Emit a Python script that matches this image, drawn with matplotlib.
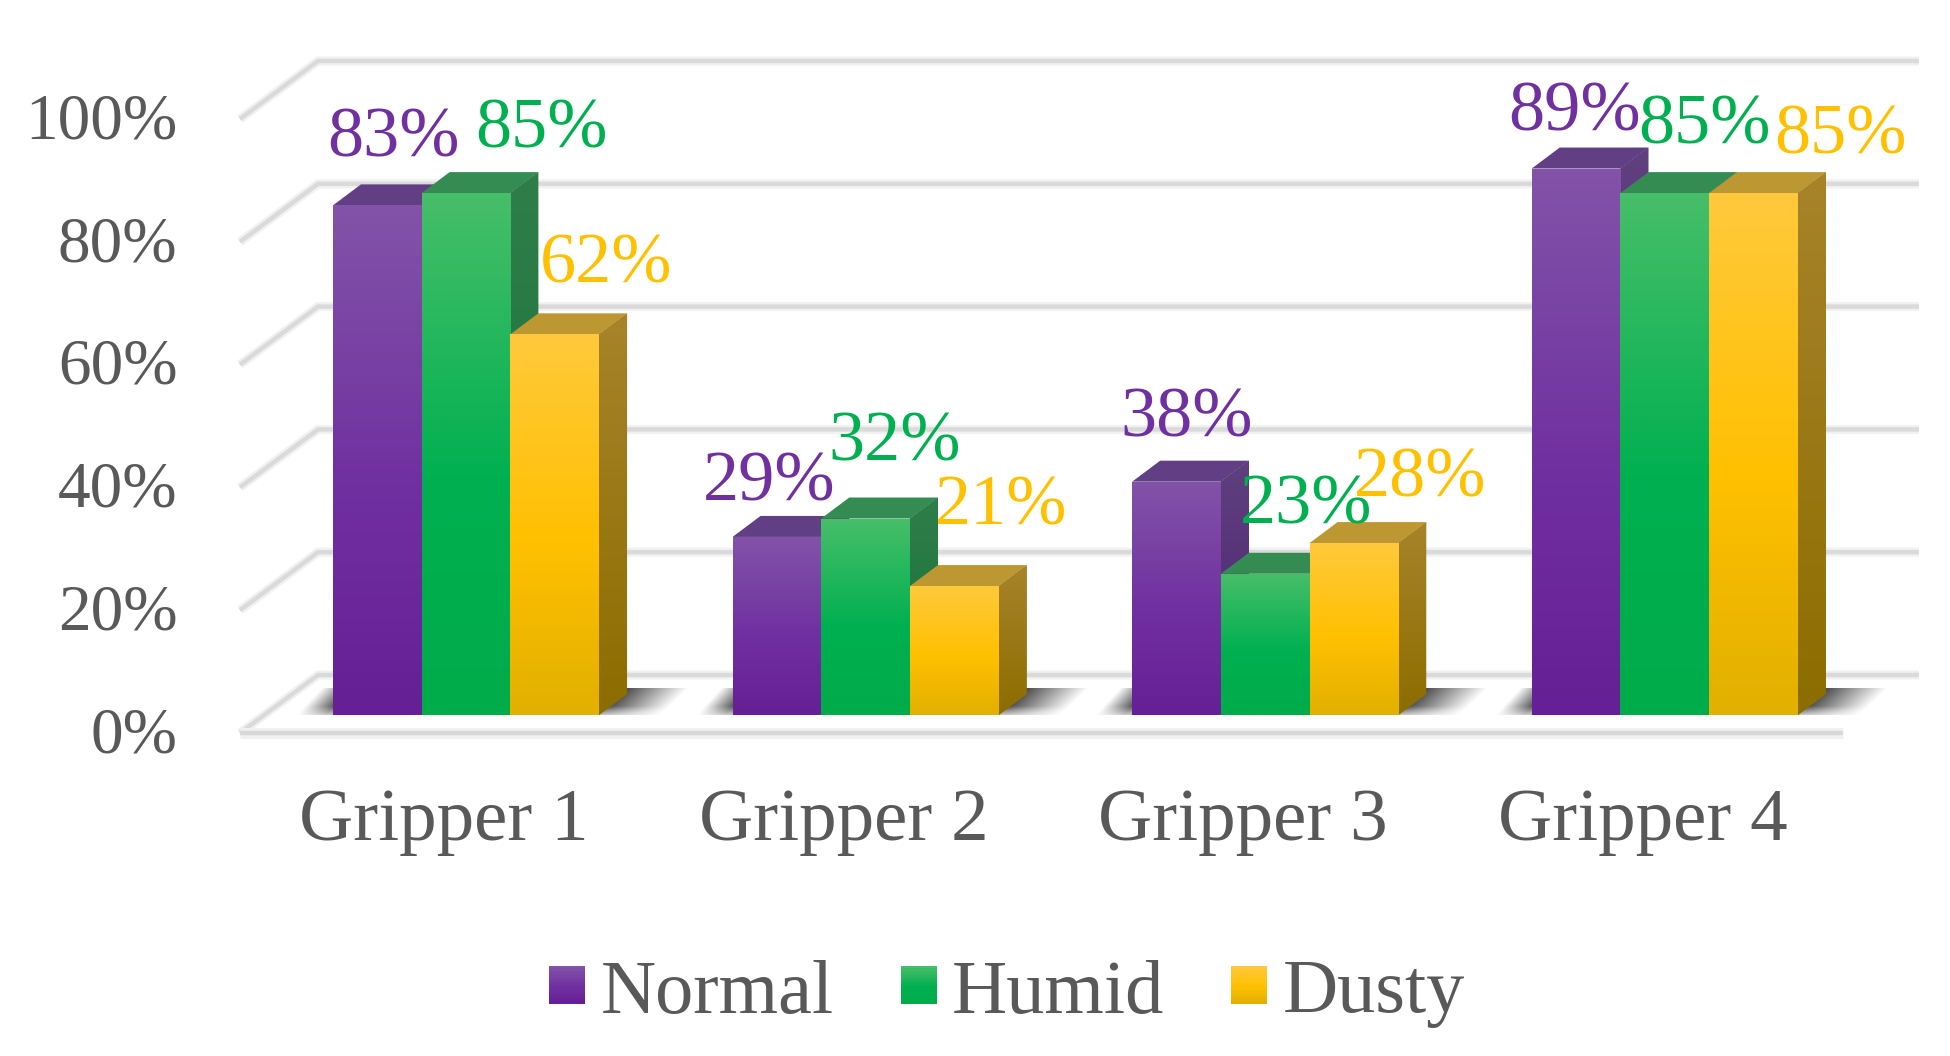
import numpy as np
import matplotlib
matplotlib.use("Agg")
import matplotlib.pyplot as plt
from matplotlib.colors import LinearSegmentedColormap
from matplotlib.patches import Polygon, Rectangle
from matplotlib.legend_handler import HandlerBase
from matplotlib.transforms import ScaledTranslation

categories = ["Gripper 1", "Gripper 2", "Gripper 3", "Gripper 4"]
series_names = ["Normal", "Humid", "Dusty"]
normal = [83, 29, 38, 89]
humid = [85, 32, 23, 85]
dusty = [62, 21, 28, 85]
y_ticks = [0, 20, 40, 60, 80, 100]

# styling
label_colors = ["#7030A0", "#00B050", "#FFC000"]
front_stops = [["#8253A8", "#7030A0", "#661F96"],
               ["#47BE69", "#00B050", "#00AB4A"],
               ["#FFC93B", "#FFC000", "#E2B000"]]
side_stops = [["#60407F", "#4A2070"], ["#2F7E49", "#176F38"], ["#A8832A", "#8C6D00"]]
top_colors = ["#623F85", "#358C52", "#BD9732"]
# label offsets from bar top centre, in pixels (right, up)
label_dx = [[16, 76, 51], [-8, 29, 47], [10, 41, 66], [-2, 40, 87]]
label_dy = [[66, 63, 69], [54, 76, 79], [63, 68, 64], [56, 67, 57]]

W, H = 1950, 1056
L, R, T, B = 240, 1843, 119, 733
PX_X = 399.6            # pixels per category
PX_Y = (B - T) / 100    # pixels per percent
LIFT = 18 / PX_Y
BAR_W = 88.7 / PX_X
BAR_SHIFT = 22 / PX_X
DEPTH_X, DEPTH_Y = 28 / PX_X, 21 / PX_Y
SHADOW_Y = 27 / PX_Y
WALL_X, WALL_Y = 78 / PX_X, 58 / PX_Y
X0 = 444

plt.rcParams["font.family"] = ["Liberation Serif", "DejaVu Serif"]
fig = plt.figure(figsize=(W / 100, H / 100), dpi=100, facecolor="white")
ax = fig.add_axes([L / W, 1 - B / H, (R - L) / W, (B - T) / H])
xlim = ((L - X0) / PX_X, (R - X0) / PX_X)
ax.set_xlim(xlim)
ax.set_ylim(0, 100)
ax.patch.set_visible(False)
for s in ax.spines.values():
    s.set_visible(False)


def cmap(stops, mid=0.55):
    if len(stops) == 3:
        return LinearSegmentedColormap.from_list("g", [(0, stops[0]), (mid, stops[1]), (1, stops[2])])
    return LinearSegmentedColormap.from_list("g", stops)


VGRAD = np.linspace(0, 1, 128)[:, None]


def grad_fill(patch, stops, z):
    tr = patch.get_patch_transform() if isinstance(patch, Rectangle) else None
    ext = patch.get_path().get_extents(tr)
    im = ax.imshow(VGRAD, cmap=cmap(stops), aspect="auto", extent=(ext.x0, ext.x1, ext.y0, ext.y1),
                   origin="upper", zorder=z, interpolation="bilinear")
    im.set_clip_path(patch)


# walls: gridlines
right_back = (1919 - X0) / PX_X
for color, lw, zg in (("#F1F1F1", 6.5, 1), ("#DADADA", 3.2, 1.1)):
    for t in y_ticks:
        xs = [xlim[0], xlim[0] + WALL_X, right_back]
        ys = [t, t + WALL_Y, t + WALL_Y]
        ax.plot(xs, ys, color=color, lw=lw, clip_on=False, zorder=zg,
                solid_joinstyle="miter", solid_capstyle="butt")
ax.plot(xlim, [0, 0], color="#F1F1F1", lw=8, clip_on=False, zorder=1.2, solid_capstyle="butt")
ax.plot(xlim, [0, 0], color="#D8D8D8", lw=3.2, clip_on=False, zorder=1.3, solid_capstyle="butt")

# floor shadows
ny, nx = 28, 100
yy = np.linspace(1, 0, ny)[:, None]
for i in range(len(categories)):
    cx = i + BAR_SHIFT
    xl, xr = cx - 1.5 * BAR_W, cx + 1.5 * BAR_W
    # right
    px = np.linspace(0, 95, nx)[None, :]
    a = np.clip(1 - (px - 28 * yy) / 62, 0, 1) * 0.8
    a = np.where(px < 28 * yy, 0.8, a) * np.clip(0.35 + yy * 2, 0, 1)
    img = np.zeros((ny, nx, 4)); img[..., 3] = a
    img[..., :3] = 0.12
    ax.imshow(img, aspect="auto", extent=(xr, xr + 95 / PX_X, LIFT, LIFT + SHADOW_Y), origin="upper",
              zorder=2, interpolation="bilinear", clip_on=False)
    # left
    px = np.linspace(-36, 0, nx)[None, :]
    a = np.clip((px + 36 - 24 * yy) / 28, 0, 1) * 0.72 * np.clip(0.35 + yy * 2, 0, 1)
    img = np.zeros((ny, nx, 4)); img[..., 3] = a
    img[..., :3] = 0.12
    ax.imshow(img, aspect="auto", extent=(xl - 36 / PX_X, xl, LIFT, LIFT + SHADOW_Y), origin="upper",
              zorder=2, interpolation="bilinear", clip_on=False)

# bars
values = [normal, humid, dusty]
x = np.arange(len(categories))
z = 3.0
for i in range(len(categories)):
    for k, name in enumerate(series_names):
        v = values[k][i]
        cx = i + BAR_SHIFT + (k - 1) * BAR_W
        x0, x1 = cx - BAR_W / 2, cx + BAR_W / 2
        y0, y1 = LIFT, LIFT + v
        side = Polygon([(x1, y0), (x1 + DEPTH_X, y0 + DEPTH_Y), (x1 + DEPTH_X, y1 + DEPTH_Y), (x1, y1)],
                       closed=True, fc=side_stops[k][1], ec="none", zorder=z)
        ax.add_patch(side)
        grad_fill(side, side_stops[k], z + 0.01)
        ax.add_patch(Polygon([(x0, y1), (x0 + DEPTH_X, y1 + DEPTH_Y), (x1 + DEPTH_X, y1 + DEPTH_Y), (x1, y1)],
                             closed=True, fc=top_colors[k], ec="none", zorder=z + 0.02))
        rect = ax.bar(cx, v, width=BAR_W, bottom=LIFT, color=front_stops[k][1], zorder=z + 0.03,
                      linewidth=0)[0]
        grad_fill(rect, front_stops[k], z + 0.04)
        z += 0.1

# data labels
for i in range(len(categories)):
    for k in range(3):
        v = values[k][i]
        cx = i + BAR_SHIFT + (k - 1) * BAR_W
        ax.annotate(f"{v}%", xy=(cx, LIFT + v), xytext=(label_dx[i][k] * 0.72, label_dy[i][k] * 0.72),
                    textcoords="offset points", ha="center", va="center",
                    color=label_colors[k], fontsize=52, zorder=20, annotation_clip=False)

ax.set_xlim(xlim)
ax.set_ylim(0, 100)
ax.set_xticks(x, categories)
ax.set_yticks(y_ticks, [f"{t}%" for t in y_ticks])
ax.tick_params(axis="x", length=0, pad=40, labelsize=54, labelcolor="#595959")
ax.tick_params(axis="y", length=0, pad=45, labelsize=47, labelcolor="#595959")
for lbl in ax.get_yticklabels():
    lbl.set_transform(lbl.get_transform() + ScaledTranslation(0, 2.5 / 72, fig.dpi_scale_trans))


class GradHandler(HandlerBase):
    def __init__(self, stops):
        super().__init__()
        self.stops = stops

    def create_artists(self, legend, orig, xd, yd, w, h, fs, trans):
        cm = cmap(self.stops)
        n = 14
        return [Rectangle((-xd, -yd + h * (n - 1 - j) / n), w, h / n + 0.3, fc=cm(j / (n - 1)), ec="none",
                          transform=trans) for j in range(n)]


handles = [Rectangle((0, 0), 1, 1) for _ in series_names]
ax.legend(handles, series_names,
          handler_map={h: GradHandler(front_stops[k]) for k, h in enumerate(handles)},
          loc="center", bbox_to_anchor=(1007 / W, 1 - 994 / H), bbox_transform=fig.transFigure,
          ncol=3, frameon=False, fontsize=55, labelcolor="#595959", handlelength=0.47,
          handleheight=0.39, handletextpad=0.2, columnspacing=0.88, borderpad=0, borderaxespad=0)

fig.savefig("out.png", dpi=100)
